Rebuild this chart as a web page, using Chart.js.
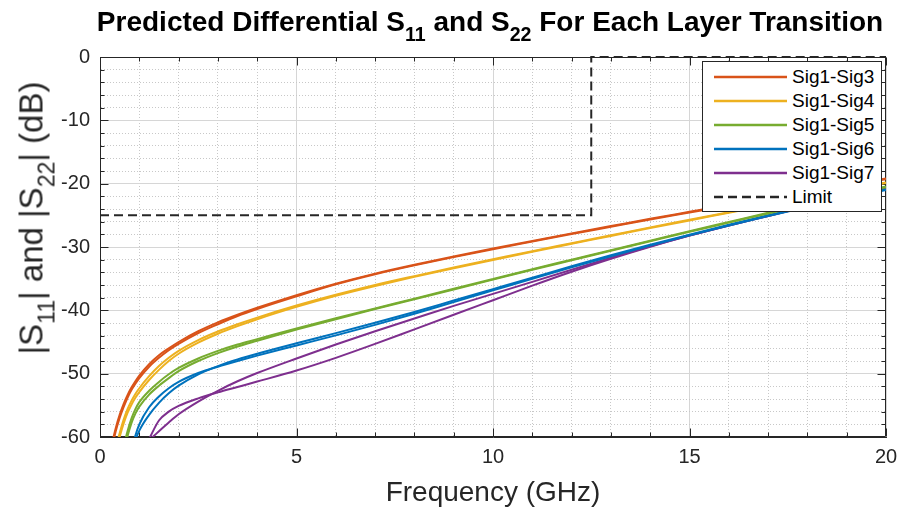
<!DOCTYPE html>
<html>
<head>
<meta charset="utf-8">
<script src="https://cdn.jsdelivr.net/npm/chart.js@4.4.0/dist/chart.umd.min.js"></script>
<style>
  body { margin: 0; background: #fff; font-family: "Liberation Sans", Arial, sans-serif; }
  #wrap { position: relative; width: 901px; height: 512px; }
  #title {
    position: absolute; top: 8px; left: 490px; transform: translateX(-50%);
    white-space: nowrap; font-weight: bold; font-size: 28px; line-height: 28px; color: #000;
  }
  #title sub, #ylabel sub { font-size: 0.7em; vertical-align: -0.5em; line-height: 0; }
  #ylabel {
    position: absolute; left: 31px; top: 218px; transform: translate(-50%, -50%) rotate(-90deg);
    white-space: nowrap; font-size: 33px; line-height: 33px; color: #262626;
  }
  #legend {
    position: absolute; left: 702px; top: 61px; width: 178px; height: 146px;
    border: 1px solid #262626; background: #fff; padding-top: 3px;
  }
  .row { height: 24px; display: flex; align-items: center; }
  .row svg { flex: none; }
  .row span { margin-left: 5px; font-size: 19px; color: #000; }
</style>
</head>
<body>
<div id="wrap">
  <canvas id="chart" width="901" height="512"></canvas>
  <div id="title">Predicted Differential S<sub>11</sub> and S<sub>22</sub> For Each Layer Transition</div>
  <div id="ylabel">|S<sub>11</sub>| and |S<sub>22</sub>| (dB)</div>
  <div id="legend"></div>
</div>
<script>
// Fréquences communes (GHz)
const freqGHz = [0.3, 0.4, 0.5, 0.6, 0.7, 0.8, 0.9, 1, 1.25, 1.5, 1.75, 2, 2.5, 3, 3.5, 4,
  5, 6, 7, 8, 9, 10, 11, 12, 13, 14, 15, 16, 17, 18, 19, 20];

// |S11| et |S22| (dB)
const sig3S11 = [-61.2, -58.6, -56.5, -54.8, -53.4, -52.2, -51.2, -50.3, -48.5, -47.1, -46.0, -45.0, -43.3, -41.9, -40.7, -39.6,
  -37.6, -35.8, -34.2, -32.8, -31.5, -30.25, -29.05, -27.85, -26.7, -25.55, -24.45, -23.35, -22.3, -21.25, -20.2, -19.2];
const sig3S22 = [-61.8, -59.1, -57.0, -55.3, -53.8, -52.6, -51.6, -50.7, -48.9, -47.5, -46.3, -45.3, -43.6, -42.2, -40.9, -39.8,
  -37.8, -35.9, -34.3, -32.9, -31.6, -30.35, -29.15, -27.95, -26.8, -25.65, -24.55, -23.45, -22.4, -21.35, -20.3, -19.3];
const sig4S11 = [null, -61.8, -59.4, -57.3, -55.6, -54.3, -53.2, -52.3, -50.4, -48.8, -47.5, -46.4, -44.7, -43.35, -42.2, -41.15,
  -39.25, -37.55, -36.0, -34.6, -33.25, -31.95, -30.65, -29.4, -28.15, -26.9, -25.7, -24.5, -23.3, -22.1, -20.95, -19.8];
const sig4S22 = [null, -62.4, -60.0, -57.9, -56.2, -54.9, -53.8, -52.9, -51.0, -49.4, -48.0, -46.85, -45.1, -43.7, -42.5, -41.4,
  -39.45, -37.7, -36.15, -34.7, -33.35, -32.05, -30.75, -29.5, -28.25, -27.0, -25.8, -24.6, -23.4, -22.2, -21.05, -19.9];
const sig5S11 = [null, null, null, -61.6, -59.1, -57.1, -55.6, -54.5, -52.7, -51.3, -50.1, -49.1, -47.6, -46.4, -45.4, -44.55,
  -42.85, -41.25, -39.7, -38.15, -36.6, -35.05, -33.5, -32.0, -30.5, -29.0, -27.5, -26.05, -24.6, -23.2, -21.8, -20.45];
const sig5S22 = [null, null, null, -62.6, -59.9, -57.8, -56.3, -55.2, -53.3, -51.9, -50.7, -49.6, -48.0, -46.75, -45.7, -44.8,
  -43.05, -41.4, -39.8, -38.25, -36.7, -35.15, -33.6, -32.1, -30.6, -29.1, -27.6, -26.15, -24.7, -23.3, -21.9, -20.55];
const sig6S11 = [null, null, null, null, null, -62.5, -59.8, -58.0, -55.3, -53.6, -52.3, -51.3, -49.9, -48.9, -48.0, -47.15,
  -45.55, -43.95, -42.3, -40.55, -38.7, -36.85, -35.0, -33.2, -31.45, -29.75, -28.15, -26.6, -25.1, -23.7, -22.35, -21.0];
const sig6S22 = [null, null, null, null, null, -63.5, -60.6, -59.0, -56.5, -54.6, -53.1, -51.9, -50.1, -48.8, -47.75, -46.85,
  -45.2, -43.6, -41.95, -40.25, -38.45, -36.65, -34.85, -33.05, -31.3, -29.65, -28.05, -26.5, -25.0, -23.55, -22.2, -20.9];
const sig7S11 = [null, null, null, null, null, null, null, null, -60.3, -57.4, -56.0, -55.1, -53.9, -52.95, -52.1, -51.25,
  -49.5, -47.5, -45.3, -43.0, -40.7, -38.4, -36.1, -33.9, -31.85, -29.95, -28.2, -26.6, -25.1, -23.6, -22.2, -20.8];
const sig7S22 = [null, null, null, null, null, null, null, null, -60.5, -59.1, -57.7, -56.4, -54.4, -52.7, -51.2, -49.9,
  -47.6, -45.4, -43.3, -41.3, -39.3, -37.4, -35.5, -33.6, -31.7, -29.9, -28.2, -26.6, -25.1, -23.6, -22.1, -20.7];

const seriesNames = ['Sig1-Sig3', 'Sig1-Sig4', 'Sig1-Sig5', 'Sig1-Sig6', 'Sig1-Sig7'];
const seriesColors = ['#D95319', '#EDB120', '#77AC30', '#0072BD', '#7E2F8E'];
const s11Data = [sig3S11, sig4S11, sig5S11, sig6S11, sig7S11];
const s22Data = [sig3S22, sig4S22, sig5S22, sig6S22, sig7S22];

// Gabarit
const limitFreq = [0, 12.5, 12.5, 20];
const limitDb = [-25, -25, 0, 0];

// Axes
const xMin = 0, xMax = 20, xMinorStep = 1, xMajorStep = 5;
const yMin = -60, yMax = 0, yMinorStep = 2, yMajorStep = 10;

const AXIS_COLOR = '#262626';
const FONT = '"Liberation Sans", Arial, sans-serif';

function toPoints(xs, ys) {
  return xs.map((x, i) => ({ x: x, y: ys[i] }));
}

function isMajor(v, step) {
  return Math.round(v) % step === 0;
}

const datasets = [];
seriesNames.forEach((name, i) => {
  [s11Data[i], s22Data[i]].forEach((vals, k) => {
    datasets.push({
      label: name + (k === 0 ? ' S11' : ' S22'),
      data: toPoints(freqGHz, vals),
      borderColor: seriesColors[i],
      borderWidth: 2,
      pointRadius: 0,
      fill: false,
      cubicInterpolationMode: 'monotone',
      spanGaps: false
    });
  });
});
datasets.push({
  label: 'Limit',
  data: toPoints(limitFreq, limitDb),
  borderColor: AXIS_COLOR,
  borderWidth: 2,
  borderDash: [9, 5],
  pointRadius: 0,
  fill: false,
  tension: 0,
  clip: 4
});

// Cadre + graduations vers l'intérieur (style MATLAB)
const axisFrame = {
  id: 'axisFrame',
  beforeDatasetsDraw(chart) {
    const { ctx, chartArea: a, scales } = chart;
    const L = Math.round(a.left) + 0.5, R = Math.round(a.right) - 0.5;
    const T = Math.round(a.top) + 0.5, B = Math.round(a.bottom) - 0.5;
    ctx.save();
    ctx.strokeStyle = AXIS_COLOR;
    ctx.lineWidth = 1;
    ctx.beginPath();
    ctx.rect(L, T, R - L, B - T);
    for (let f = xMin; f <= xMax; f += xMinorStep) {
      const px = Math.round(scales.x.getPixelForValue(f)) + 0.5;
      const len = isMajor(f, xMajorStep) ? 8 : 4;
      ctx.moveTo(px, B); ctx.lineTo(px, B - len);
      ctx.moveTo(px, T); ctx.lineTo(px, T + len);
    }
    for (let v = yMin; v <= yMax; v += yMinorStep) {
      const py = Math.round(scales.y.getPixelForValue(v)) + 0.5;
      const len = isMajor(v, yMajorStep) ? 8 : 4;
      ctx.moveTo(L, py); ctx.lineTo(L + len, py);
      ctx.moveTo(R, py); ctx.lineTo(R - len, py);
    }
    ctx.stroke();
    ctx.restore();
  }
};

new Chart(document.getElementById('chart'), {
  type: 'line',
  data: { datasets: datasets },
  options: {
    responsive: false,
    animation: false,
    devicePixelRatio: 1,
    layout: { padding: { top: 57, right: 15, left: 0, bottom: 0 } },
    plugins: {
      legend: { display: false },
      tooltip: { enabled: false }
    },
    scales: {
      x: {
        type: 'linear',
        min: xMin,
        max: xMax,
        afterFit: (s) => { s.height = 75; s.paddingLeft = 0; s.paddingRight = 0; },
        ticks: {
          stepSize: xMinorStep,
          autoSkip: false,
          maxRotation: 0,
          padding: 8,
          color: AXIS_COLOR,
          font: { family: FONT, size: 20 },
          callback: (v) => isMajor(v, xMajorStep) ? v : ''
        },
        grid: {
          drawTicks: false,
          color: (c) => (c.tick && isMajor(c.tick.value, xMajorStep)) ? '#d6d6d6' : '#c8c8c8'
        },
        border: {
          color: AXIS_COLOR,
          width: 1,
          dash: (c) => (c.tick && !isMajor(c.tick.value, xMajorStep)) ? [1, 2] : []
        },
        title: {
          display: true,
          text: 'Frequency (GHz)',
          color: AXIS_COLOR,
          font: { family: FONT, size: 28 },
          padding: { top: 0, bottom: 2 }
        }
      },
      y: {
        type: 'linear',
        min: yMin,
        max: yMax,
        afterFit: (s) => { s.width = 100; s.paddingTop = 0; s.paddingBottom = 0; },
        ticks: {
          stepSize: yMinorStep,
          autoSkip: false,
          padding: 10,
          color: AXIS_COLOR,
          font: { family: FONT, size: 20 },
          callback: (v) => isMajor(v, yMajorStep) ? v : ''
        },
        grid: {
          drawTicks: false,
          color: (c) => (c.tick && isMajor(c.tick.value, yMajorStep)) ? '#d6d6d6' : '#c8c8c8'
        },
        border: {
          color: AXIS_COLOR,
          width: 1,
          dash: (c) => (c.tick && !isMajor(c.tick.value, yMajorStep)) ? [1, 2] : []
        }
      }
    }
  },
  plugins: [axisFrame]
});

// Légende HTML (une entrée par transition + gabarit)
const legendEl = document.getElementById('legend');
const legendItems = seriesNames.map((n, i) => ({ name: n, color: seriesColors[i], dash: '' }));
legendItems.push({ name: 'Limit', color: AXIS_COLOR, dash: '9 5' });
legendItems.forEach((it) => {
  const row = document.createElement('div');
  row.className = 'row';
  row.innerHTML =
    '<svg width="84" height="24"><line x1="11" y1="12" x2="84" y2="12" stroke="' + it.color +
    '" stroke-width="2.5"' + (it.dash ? ' stroke-dasharray="' + it.dash + '"' : '') + '/></svg>' +
    '<span>' + it.name + '</span>';
  legendEl.appendChild(row);
});
</script>
</body>
</html>
